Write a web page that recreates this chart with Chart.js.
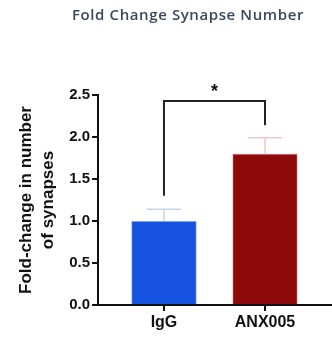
<!DOCTYPE html>
<html>
<head>
  <title>Fold Change Synapse Number</title>
  <script src="https://cdn.jsdelivr.net/npm/chart.js@4/dist/chart.umd.min.js"></script>
  <style>
    body { margin: 0; background: #fff; }
    #wrap { width: 332px; height: 338px; }
  </style>
</head>
<body>
  <div id="wrap"><canvas id="synapse-chart"></canvas></div>
  <script>
    // data
    const groups = ['IgG', 'ANX005'];
    const xPos = [0, 1];
    const means = [1.00, 1.80];
    const sems = [0.14, 0.19];
    const yTicks = [0, 0.5, 1.0, 1.5, 2.0, 2.5];
    // significance bracket: top level and where each leg stops
    const bracketTop = 2.43;
    const legBottoms = [1.30, 2.14];
    const sigLabel = '*';
    const chartTitle = 'Fold Change Synapse Number';

    const barColors = ['#1652e0', '#8c0a0a'];
    const barEdges = ['#a9c0f4', '#f2bcbc'];
    const errColors = ['#c8d4ea', '#ecc8c8'];

    // error bars (upper half only) + bracket + title
    const extras = {
      id: 'extras',
      afterDatasetsDraw(chart) {
        const { ctx, scales: { x, y } } = chart;
        ctx.save();
        ctx.lineWidth = 1.5;
        xPos.forEach((v, i) => {
          const px = x.getPixelForValue(v);
          const top = y.getPixelForValue(means[i] + sems[i]);
          const base = y.getPixelForValue(means[i]);
          ctx.strokeStyle = errColors[i];
          ctx.beginPath();
          ctx.moveTo(px, base);
          ctx.lineTo(px, top);
          ctx.moveTo(px - 17, top);
          ctx.lineTo(px + 17, top);
          ctx.stroke();
        });

        // bracket
        const x0 = x.getPixelForValue(xPos[0]);
        const x1 = x.getPixelForValue(xPos[1]);
        const yt = y.getPixelForValue(bracketTop);
        ctx.strokeStyle = '#222';
        ctx.lineWidth = 2;
        ctx.beginPath();
        ctx.moveTo(x0, y.getPixelForValue(legBottoms[0]));
        ctx.lineTo(x0, yt);
        ctx.lineTo(x1, yt);
        ctx.lineTo(x1, y.getPixelForValue(legBottoms[1]));
        ctx.stroke();
        ctx.fillStyle = '#111';
        ctx.font = 'bold 18px "Liberation Sans", Arial';
        ctx.textAlign = 'center';
        ctx.textBaseline = 'middle';
        ctx.fillText(sigLabel, (x0 + x1) / 2, yt - 9);

        // title
        ctx.fillStyle = '#3a4858';
        ctx.font = '600 15px "Open Sans", sans-serif';
        ctx.letterSpacing = '0.6px';
        ctx.fillText(chartTitle, 188, 16);
        ctx.restore();
      }
    };

    const ctx = document.getElementById('synapse-chart').getContext('2d');
    new Chart(ctx, {
      type: 'bar',
      data: {
        datasets: [{
          data: xPos.map((v, i) => ({ x: v, y: means[i] })),
          backgroundColor: barColors,
          borderColor: barEdges,
          borderWidth: 1,
          barThickness: 65,
        }],
      },
      options: {
        responsive: true,
        maintainAspectRatio: false,
        animation: false,
        layout: { padding: { top: 95, right: 0, bottom: 0, left: 0 } },
        plugins: {
          legend: { display: false },
          tooltip: { enabled: false },
        },
        scales: {
          x: {
            type: 'linear',
            offset: false,
            min: -0.653,
            max: 1.663,
            afterBuildTicks: s => { s.ticks = xPos.map(v => ({ value: v })); },
            afterFit: s => { s.height = 33; },
            ticks: {
              autoSkip: false,
              maxRotation: 0,
              color: '#111',
              font: { family: '"Liberation Sans", Arial', size: 16, weight: 'bold' },
              padding: 2,
              callback: v => groups[xPos.indexOf(v)],
            },
            grid: { offset: false, drawOnChartArea: false, color: '#111', lineWidth: 2, tickLength: 6 },
            border: { color: '#111', width: 2 },
          },
          y: {
            min: 0,
            max: 2.5,
            afterBuildTicks: s => { s.ticks = yTicks.map(v => ({ value: v })); },
            afterFit: s => { s.width = 98; },
            ticks: {
              color: '#111',
              font: { family: '"Liberation Sans", Arial', size: 15, weight: 'bold' },
              padding: 2,
              callback: v => v.toFixed(1),
            },
            grid: { drawOnChartArea: false, color: '#111', lineWidth: 2, tickLength: 6 },
            border: { color: '#111', width: 2 },
            title: {
              display: true,
              text: ['Fold-change in number', 'of synapses'],
              color: '#111',
              font: { family: '"Liberation Sans", Arial', size: 17, weight: 'bold', lineHeight: 1.25 },
              padding: { top: 16, bottom: 0 },
            },
          },
        },
      },
      plugins: [extras],
    });
  </script>
</body>
</html>
